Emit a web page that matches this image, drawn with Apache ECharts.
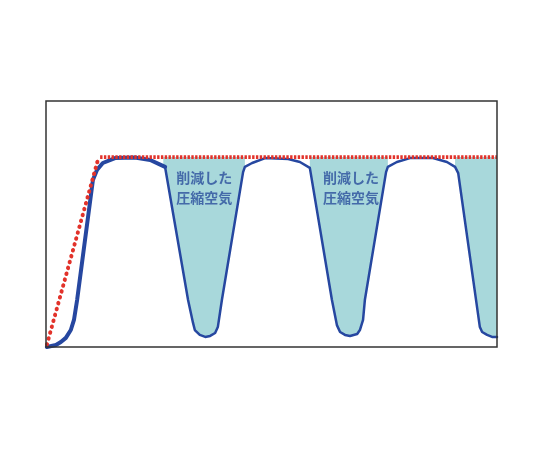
<!DOCTYPE html>
<html>
<head>
<meta charset="utf-8">
<script src="https://cdn.jsdelivr.net/npm/echarts@6/dist/echarts.min.js"></script>
<style>html,body{margin:0;padding:0;background:#fff;}#c{width:540px;height:450px;}</style>
</head>
<body>
<div id="c"></div>
<script>
// Blue curve (actual pressure), x: time 0-100, y: level 0-100
const blueX = [0.2, 2.2, 3.3, 4.4, 5.5, 6.2, 6.9, 10.4, 11.3, 12.6, 15.3, 19.7, 23.1, 26.4,
  31.5, 32.6, 33.0, 34.1, 35.3, 36.4, 37.5, 38.1, 39.0, 43.7, 44.1, 45.7, 48.6, 53.7, 56.3, 58.5, 58.8,
  63.4, 64.5, 65.2, 66.3, 67.4, 69.0, 69.6, 70.3, 70.7, 75.4, 75.8, 77.8, 80.7, 85.8, 88.9, 90.7, 91.4,
  96.2, 96.7, 97.8, 98.9, 100];
const blueY = [0, 0.8, 2.0, 3.7, 6.9, 11.0, 19.1, 67.9, 72.0, 74.8, 76.8, 77.0, 76.0, 73.2,
  19.1, 9.8, 6.9, 4.9, 4.1, 4.5, 5.7, 8.1, 19.1, 71.1, 73.2, 74.8, 76.8, 76.4, 75.2, 72.8, 72.0,
  19.1, 8.9, 6.1, 4.9, 4.5, 5.3, 6.9, 11.0, 19.1, 71.1, 73.2, 75.2, 76.8, 76.8, 75.2, 73.2, 70.7,
  8.1, 6.1, 4.9, 4.1, 4.1];
const thickCount = 14; // first segment drawn thicker

// Red dotted line (set pressure): rising part and flat part
const redRiseX = [0.2, 11.5, 12.0];
const redRiseY = [1.0, 76.0, 77.2];
const redFlatX = [12.0, 100];
const redFlatY = [77.2, 77.2];

// Saved compressed-air regions (x ranges under red line)
const savedX = [26.0, 44.1, null, 58.5, 75.8, null, 90.7, 100];
const savedY = [77.2, 77.2, null, 77.2, 77.2, null, 77.2, 77.2];

// Annotations
const labelX = [35.1, 67.6];
const labelY = [64.8, 64.8];
const labelText = ['削減した\n圧縮空気', '削減した\n圧縮空気'];

const zip = (xs, ys) => xs.map((x, i) => (x === null ? [null, null] : [x, ys[i]]));
const blueData = zip(blueX, blueY);

const chart = echarts.init(document.getElementById('c'), null, {renderer: 'canvas'});
chart.setOption({
  animation: false,
  backgroundColor: '#ffffff',
  grid: {left: 46, top: 101, right: 43, bottom: 103, show: true, borderColor: '#333333', borderWidth: 1.5, z: 10},
  xAxis: {type: 'value', min: 0, max: 100, show: false},
  yAxis: {type: 'value', min: 0, max: 100, show: false},
  series: [
    {
      type: 'line', data: zip(savedX, savedY), symbol: 'none', connectNulls: false,
      lineStyle: {width: 0, opacity: 0}, areaStyle: {color: '#a8d8db', opacity: 1}, z: 1
    },
    {
      type: 'line', data: blueData, symbol: 'none',
      lineStyle: {width: 0, opacity: 0}, areaStyle: {color: '#ffffff', opacity: 1}, z: 2
    },
    {
      type: 'line', data: blueData.slice(0, thickCount), symbol: 'none',
      lineStyle: {width: 4, color: '#2647a0', join: 'round', cap: 'round'}, z: 3
    },
    {
      type: 'line', data: blueData.slice(thickCount - 1), symbol: 'none',
      lineStyle: {width: 2.5, color: '#2647a0', join: 'round', cap: 'round'}, z: 3
    },
    {
      type: 'line', data: zip(redRiseX, redRiseY), symbol: 'none',
      lineStyle: {width: 4, color: '#e2322a', type: [0.5, 5.6], cap: 'round'}, z: 4
    },
    {
      type: 'line', data: zip(redFlatX, redFlatY), symbol: 'none',
      lineStyle: {width: 3.8, color: '#e2322a', type: [2.4, 1.4], cap: 'butt'}, z: 4
    },
    {
      type: 'scatter', symbolSize: 0, z: 5,
      data: labelX.map((x, i) => ({value: [x, labelY[i]], label: {formatter: labelText[i]}})),
      label: {
        show: true, position: 'inside', color: '#2a4f9c', fontSize: 14, fontWeight: 'bold',
        lineHeight: 20, align: 'center', verticalAlign: 'middle',
        fontFamily: '"Noto Sans CJK JP", sans-serif'
      }
    }
  ]
});
</script>
</body>
</html>
